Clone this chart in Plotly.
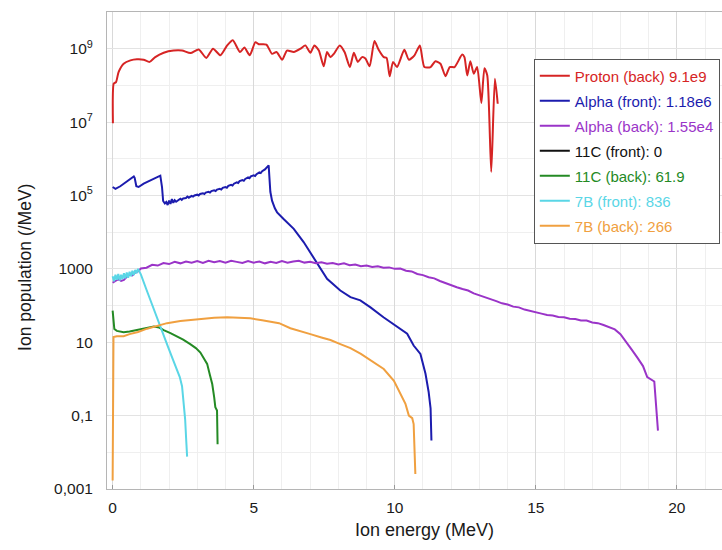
import plotly.graph_objects as go

# ---- data: (energy MeV, population /MeV) ----
proton_back = [
    (0.01, 9.33e6), (0.04, 1.12e8), (0.12, 1.23e8), (0.21, 2.29e8), (0.39, 3.89e8),
    (0.63, 4.79e8), (0.86, 5.13e8), (1.10, 5.01e8), (1.31, 4.37e8), (1.51, 5.89e8),
    (1.81, 7.76e8), (2.16, 8.91e8), (2.46, 8.91e8), (2.76, 7.59e8), (3.05, 9.55e8),
    (3.32, 5.62e8), (3.56, 1.0e9), (3.82, 6.61e8), (4.06, 1.23e9), (4.26, 1.70e9),
    (4.51, 8.13e8), (4.67, 1.07e9), (4.86, 6.61e8), (5.06, 1.51e9), (5.18, 1.32e9),
    (5.45, 1.29e9), (5.65, 7.24e8), (5.81, 8.13e8), (6.01, 5.01e8), (6.18, 8.91e8),
    (6.42, 8.13e8), (6.66, 1.0e9), (6.83, 1.23e9), (7.01, 7.76e8), (7.15, 1.23e9),
    (7.31, 8.91e8), (7.48, 3.31e8), (7.60, 8.13e8), (7.72, 5.89e8), (7.84, 7.24e8),
    (8.05, 1.23e9), (8.22, 8.13e8), (8.41, 3.16e8), (8.55, 7.76e8), (8.69, 4.37e8),
    (8.84, 5.89e8), (8.96, 5.37e8), (9.11, 3.31e8), (9.28, 1.62e9), (9.43, 9.33e8),
    (9.61, 5.89e8), (9.71, 5.62e8), (9.82, 1.78e8), (9.94, 4.37e8), (10.08, 3.16e8),
    (10.34, 9.33e8), (10.50, 5.01e8), (10.70, 6.61e8), (10.89, 1.23e9), (11.05, 3.16e8),
    (11.27, 3.16e8), (11.44, 4.57e8), (11.62, 3.89e8), (11.80, 1.78e8), (11.95, 3.16e8),
    (12.12, 3.16e8), (12.39, 6.92e8), (12.47, 5.89e8), (12.57, 1.86e8), (12.68, 4.57e8),
    (12.80, 2.09e8), (12.92, 3.16e8), (13.07, 3.31e7), (13.18, 2.95e8), (13.28, 1.86e8),
    (13.42, 4.37e5), (13.55, 1.51e8), (13.65, 3.16e7),
]

alpha_front = [
    (0.0, 1.70e5), (0.1, 1.51e5), (0.27, 1.78e5), (0.45, 2.29e5), (0.63, 2.95e5),
    (0.75, 3.31e5), (0.78, 3.02e5), (0.84, 1.78e5), (0.92, 1.70e5), (1.1, 2.09e5),
    (1.34, 2.57e5), (1.57, 3.16e5), (1.69, 3.47e5), (1.75, 1.70e5), (1.79, 7.08e4),
    (1.85, 6.03e4), (1.9, 6.61e4), (1.95, 5.50e4), (2.0, 7.24e4), (2.05, 5.89e4),
    (2.1, 7.94e4), (2.15, 6.31e4), (2.2, 7.41e4), (2.25, 6.76e4), (2.3, 7.24e4),
    (2.4, 8.13e4), (2.45, 7.59e4), (2.5, 8.32e4), (2.6, 8.51e4), (2.65, 9.33e4),
    (2.7, 8.71e4), (2.8, 9.77e4), (2.85, 9.33e4), (2.9, 1.00e5), (3.0, 1.05e5),
    (3.05, 1.00e5), (3.1, 1.10e5), (3.2, 1.15e5), (3.25, 1.10e5), (3.3, 1.20e5),
    (3.4, 1.26e5), (3.45, 1.20e5), (3.5, 1.32e5), (3.6, 1.38e5), (3.65, 1.32e5),
    (3.7, 1.45e5), (3.8, 1.51e5), (3.85, 1.45e5), (3.9, 1.62e5), (4.0, 1.70e5),
    (4.05, 1.62e5), (4.1, 1.82e5), (4.2, 1.95e5), (4.25, 1.86e5), (4.3, 2.09e5),
    (4.4, 2.29e5), (4.45, 2.19e5), (4.5, 2.45e5), (4.6, 2.63e5), (4.65, 2.51e5),
    (4.7, 2.82e5), (4.8, 3.09e5), (4.85, 2.95e5), (4.9, 3.31e5), (5.0, 3.55e5),
    (5.05, 3.39e5), (5.1, 3.80e5), (5.2, 4.27e5), (5.25, 4.07e5), (5.3, 4.57e5),
    (5.4, 5.13e5), (5.47, 6.03e5), (5.53, 6.61e5), (5.59, 1.26e5), (5.65, 7.24e4),
    (5.75, 4.47e4), (5.83, 3.47e4), (6.06, 2.29e4), (6.42, 1.23e4), (6.77, 5.37e3),
    (7.0, 2.82e3), (7.25, 1.38e3), (7.6, 537), (8.07, 257), (8.43, 170),
    (8.78, 138), (9.14, 89.1), (9.6, 47.9), (10.08, 25.7), (10.44, 17.0),
    (10.67, 8.13), (10.91, 4.79), (11.09, 1.38), (11.2, 0.447), (11.27, 0.158),
    (11.3, 0.0209),
]

alpha_back = [
    (0.0, 417), (0.1, 457), (0.2, 525), (0.3, 468), (0.4, 501), (0.5, 603),
    (0.6, 692), (0.7, 661), (0.8, 794), (0.9, 851), (1.0, 1023),
    (1.2, 1072), (1.4, 1288), (1.6, 1230), (1.8, 1445), (2.0, 1349), (2.2, 1549),
    (2.4, 1413), (2.6, 1585), (2.8, 1479), (3.0, 1622), (3.2, 1445), (3.4, 1660),
    (3.6, 1514), (3.8, 1622), (4.0, 1479), (4.2, 1660), (4.4, 1549), (4.6, 1445),
    (4.8, 1622), (5.0, 1479), (5.2, 1585), (5.4, 1413), (5.6, 1549), (5.8, 1445),
    (6.0, 1622), (6.2, 1479), (6.4, 1585), (6.6, 1660), (6.8, 1479), (7.0, 1549),
    (7.2, 1413), (7.4, 1514), (7.6, 1380), (7.8, 1445), (8.0, 1318), (8.2, 1413),
    (8.4, 1259), (8.6, 1318), (8.8, 1175), (9.0, 1230), (9.2, 1122), (9.4, 1175),
    (9.6, 1072), (9.8, 1096), (10.0, 1000), (10.2, 1023), (10.4, 891), (10.6, 851),
    (10.8, 724), (11.0, 676), (11.2, 589), (11.4, 550), (11.6, 468), (11.8, 407),
    (12.0, 355), (12.2, 316), (12.4, 282), (12.6, 257), (12.8, 214), (13.0, 191),
    (13.2, 166), (13.4, 155), (13.6, 132), (13.8, 115), (14.0, 107), (14.2, 93.3),
    (14.4, 89.1), (14.6, 77.6), (14.8, 72.4), (15.0, 64.6), (15.2, 60.3), (15.4, 55.0),
    (15.6, 53.7), (15.8, 49.0), (16.0, 47.9), (16.2, 43.7), (16.4, 42.7), (16.6, 38.9),
    (16.8, 38.9), (17.0, 34.7), (17.2, 33.1), (17.4, 29.5), (17.6, 26.3), (17.8, 22.4),
    (18.0, 16.6), (18.2, 10.5), (18.4, 6.31), (18.6, 3.80), (18.8, 2.24), (18.95, 1.12),
    (19.1, 0.933), (19.2, 0.851), (19.33, 0.0389),
]

c11_front = [(0.0, 0.0), (1.0, 0.0)]   # zero population: nothing shows on a log axis

c11_back = [
    (0.0, 72.4), (0.03, 35.5), (0.06, 22.9), (0.15, 20.4), (0.39, 18.6), (0.6, 19.5),
    (0.98, 22.9), (1.2, 24.5), (1.46, 26.9), (1.65, 25.1), (1.81, 21.4), (2.05, 17.8),
    (2.28, 14.5), (2.5, 11.7), (2.75, 8.91), (2.95, 6.92), (3.11, 5.25), (3.25, 3.55),
    (3.35, 2.57), (3.45, 1.26), (3.53, 0.724), (3.6, 0.316), (3.64, 0.170), (3.7, 0.138),
    (3.72, 0.0166),
]

b7_front = [
    (0.0, 631), (0.05, 457), (0.1, 692), (0.15, 501), (0.2, 724), (0.25, 479),
    (0.3, 692), (0.35, 525), (0.4, 759), (0.45, 550), (0.5, 794), (0.55, 575),
    (0.6, 832), (0.65, 631), (0.7, 891), (0.75, 676), (0.8, 933), (0.85, 759),
    (0.9, 1000), (1.0, 708), (1.2, 269), (1.34, 138), (1.5, 63.1), (1.65, 29.5),
    (1.8, 15.1), (1.95, 7.94), (2.1, 3.98), (2.25, 2.0), (2.38, 1.12), (2.46, 0.631),
    (2.52, 0.251), (2.57, 0.0794), (2.61, 0.02), (2.64, 0.0076),
]

b7_back = [
    (0.0, 0.0017), (0.03, 13.8), (0.15, 14.5), (0.39, 14.5), (0.6, 16.6), (0.9, 19.1),
    (1.22, 23.4), (1.57, 27.5), (1.93, 33.1), (2.4, 38.0), (3.11, 43.7), (3.6, 46.8),
    (4.06, 47.9), (4.5, 46.8), (4.88, 44.7), (5.3, 39.8), (5.59, 36.3), (5.9, 33.1),
    (6.3, 24.0), (6.6, 20.9), (7.01, 16.6), (7.4, 13.5), (7.72, 11.5), (8.07, 8.91),
    (8.43, 6.92), (8.8, 4.79), (9.14, 3.16), (9.61, 1.86), (9.97, 0.891), (10.2, 0.389),
    (10.38, 0.209), (10.5, 0.1), (10.62, 0.0851), (10.67, 0.0589), (10.71, 0.0138),
    (10.73, 0.00257),
]

series_names = ["Proton (back) 9.1e9", "Alpha (front): 1.18e6", "Alpha (back): 1.55e4",
                "11C (front): 0", "11C (back): 61.9", "7B (front): 836", "7B (back): 266"]
series_data = [proton_back, alpha_front, alpha_back, c11_front, c11_back, b7_front, b7_back]
series_colors = ["#d62424", "#1c1cae", "#9a34c8", "#111111", "#248a24", "#5ad6e6", "#f0a040"]
series_shapes = ["spline", "linear", "linear", "linear", "linear", "linear", "linear"]

y_tick_vals = [1e-3, 1e-1, 1e1, 1e3, 1e5, 1e7, 1e9]
y_tick_text = ["0,001", "0,1", "10", "1000", "10<sup>5</sup>", "10<sup>7</sup>", "10<sup>9</sup>"]
y_minor_vals = [1e-2, 1, 1e2, 1e4, 1e6, 1e8, 1e10]
x_tick_vals = [0, 5, 10, 15, 20]

FONT = "Liberation Sans, Arial, Helvetica, sans-serif"

fig = go.Figure()
for i, (name, data, color, shape) in enumerate(zip(series_names, series_data, series_colors, series_shapes)):
    xs = [p[0] for p in data]
    ys = [p[1] for p in data]
    fig.add_trace(go.Scatter(
        x=xs, y=ys, mode="lines",
        name=f'<span style="color:{color}">{name}</span>',
        legendgroup=f"g{i}",
        line=dict(color=color, width=2, shape=shape, smoothing=0.6 if shape == "spline" else None),
    ))

fig.update_layout(
    width=722, height=550,
    margin=dict(l=107, r=0, t=12, b=61),
    paper_bgcolor="white", plot_bgcolor="white",
    font=dict(family=FONT, size=15.5, color="#1a1a1a"),
    showlegend=True,
    legend=dict(
        x=0.694, y=0.9025, xanchor="left", yanchor="top",
        bgcolor="white", bordercolor="#555555", borderwidth=1,
        font=dict(family=FONT, size=15),
        tracegroupgap=2.5,
    ),
    xaxis=dict(
        range=[-0.2, 21.6], tickvals=x_tick_vals,
        showgrid=True, gridcolor="#d9d9d9", gridwidth=1,
        zeroline=False, showline=True, linecolor="#b5b5b5", linewidth=1, mirror=True,
        ticks="inside", ticklen=4, tickcolor="#999999",
        ticklabelstandoff=4,
        minor=dict(dtick=1, showgrid=True, gridcolor="#efefef", ticks=""),
        tickfont=dict(size=15.5),
    ),
    yaxis=dict(
        type="log", range=[-3, 10],
        tickmode="array", tickvals=y_tick_vals, ticktext=y_tick_text,
        showgrid=True, gridcolor="#e3e3e3", gridwidth=1,
        zeroline=False, showline=True, linecolor="#b5b5b5", linewidth=1,
        ticks="", ticklabelstandoff=10,
        minor=dict(tickmode="array", tickvals=y_minor_vals, showgrid=True, gridcolor="#efefef", ticks=""),
        tickfont=dict(size=15.5),
    ),
    annotations=[
        dict(text="Ion population (/MeV)", xref="paper", yref="paper",
             x=-0.1333, y=0.4635, textangle=-90, showarrow=False,
             xanchor="center", yanchor="middle", font=dict(size=17.5, color="#1a1a1a")),
        dict(text="Ion energy (MeV)", xref="paper", yref="paper",
             x=0.516, y=-0.0855, showarrow=False,
             xanchor="center", yanchor="middle", font=dict(size=18, color="#1a1a1a")),
    ],
)

fig.write_html("out.html")
